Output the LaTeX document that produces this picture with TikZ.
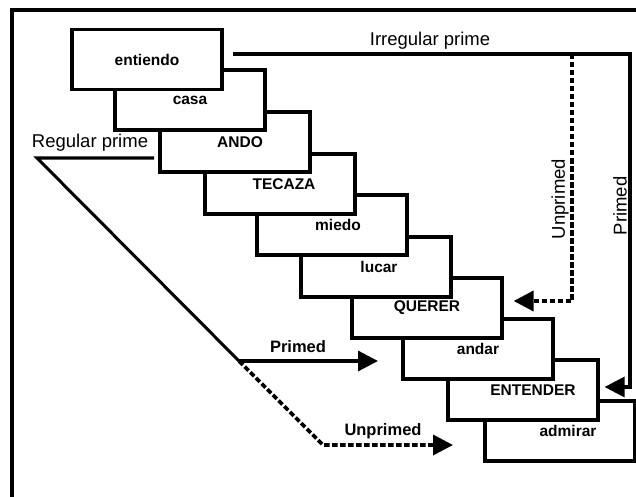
\documentclass[tikz,border=0pt]{standalone}
\usepackage{fontspec}
\setmainfont{Liberation Sans}
\usetikzlibrary{arrows.meta}
\tikzset{
  card/.style={draw, fill=white, line width=3.2pt, minimum width=150pt, minimum height=60pt, inner sep=0pt, font=\fontsize{15.5}{17}\selectfont\bfseries},
  arr/.style={line width=3.2pt, -{Triangle[length=20pt,width=20pt]}},
  dsh/.style={line width=3.6pt, dash pattern=on 5.5pt off 2.5pt},
  lbl/.style={inner sep=0pt, font=\fontsize{18.5}{20}\selectfont},
  blbl/.style={inner sep=0pt, font=\fontsize{16.5}{18}\selectfont\bfseries},
}
\begin{document}
\begin{tikzpicture}[x=1pt,y=-1pt]
\useasboundingbox (0,0) rectangle (636,497);
\coordinate (frame-bl) at (12,497);
\coordinate (frame-tl) at (12,10);
\coordinate (frame-tr) at (636,10);
\draw[line width=3.4pt] (frame-bl) -- (frame-tl) -- (frame-tr);
% cards, last one at the bottom
\node[card] (admirar) at (560,431){\hspace*{16pt}admirar};
\node[card] (entender) at (523,390){\hspace*{20pt}ENTENDER};
\node[card] (andar) at (478,349){andar};
\node[card] (querer) at (427,308){QUERER};
\node[card] (lucar) at (376,267){\hspace*{6pt}lucar};
\node[card] (miedo) at (332,225){\hspace*{12pt}miedo};
\node[card] (tecaza) at (280,184){\hspace*{8pt}TECAZA};
\node[card] (ando) at (235,142){\hspace*{10pt}ANDO};
\node[card] (casa) at (190,100){casa};
\node[card] (entiendo) at (147,59.5){entiendo};
% irregular prime
\coordinate (irr) at (233,54);
\coordinate (irr-u) at (572,54);
\coordinate (irr-p) at (630,54);
\node[lbl] (irr-lbl) at (430,41){Irregular prime};
\draw[arr] (irr) -- (irr-p) |- ([shift={(5,-3)}]entender.east);
\draw[arr, dsh] (irr-u) |- ([shift={(10,-7)}]querer.east);
\node[lbl, rotate=90] (irr-un) at (560,199){Unprimed};
\node[lbl, rotate=90] (irr-pr) at (620,206){Primed};
% regular prime
\node[lbl] (reg-lbl) at (90,143){Regular prime};
\coordinate (reg) at (37,158);
\coordinate (reg-e) at (154,158);
\coordinate (reg-s) at (239,361);
\coordinate (reg-d) at (323,445);
\coordinate (reg-pr) at (378,361);
\coordinate (reg-un) at (453,445);
\draw[line width=3pt] (reg-e) -- (reg) -- (reg-s);
\draw[arr] (reg-s) -- (reg-pr);
\draw[arr, dsh] (reg-s) -- (reg-d) -- (reg-un);
\node[blbl] (reg-pr-lbl) at (298,347){Primed};
\node[blbl] (reg-un-lbl) at (383,431){Unprimed};
\end{tikzpicture}
\end{document}
